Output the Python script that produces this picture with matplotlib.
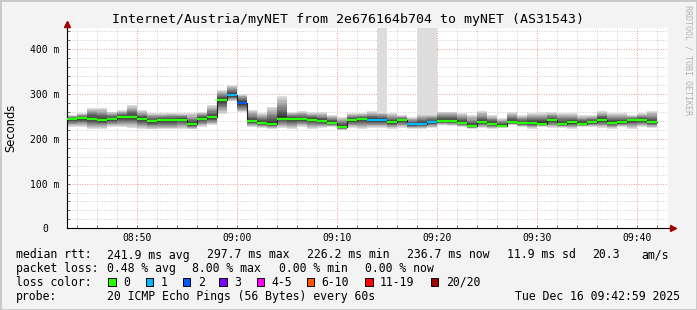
import numpy as np
import pandas as pd
import matplotlib
matplotlib.use("Agg")
import matplotlib.pyplot as plt
import matplotlib.dates as mdates
from matplotlib.patches import Rectangle
from matplotlib.ticker import MultipleLocator, FuncFormatter

W, H = 697, 310
MONO = "DejaVu Sans Mono"

# --- data (one step per minute, 20 pings each) ---
start = "2025-12-16 08:43"
median_ms = [244, 246, 245, 242, 244, 249, 249, 244, 239, 242,
             242, 243, 233, 245, 248, 287, 297, 280, 240, 236,
             233, 245, 245, 244, 243, 240, 236, 226, 242, 244,
             242, 242, 237, 242, 232, 234, 237, 240, 240, 236,
             228, 237, 234, 229, 237, 235, 235, 234, 242, 234,
             237, 234, 237, 242, 236, 237, 242, 242, 237]
smoke_lo = [227, 227, 223, 223, 227, 227, 225, 223, 221, 221,
            221, 223, 221, 227, 231, 255, 284, 259, 227, 225,
            223, 225, 223, 227, 223, 225, 227, 220, 225, 223,
            225, 225, 223, 225, 223, 223, 225, 231, 229, 227,
            223, 225, 223, 225, 231, 227, 223, 227, 225, 225,
            223, 227, 227, 225, 223, 227, 223, 227, 225]
smoke_hi = [253, 257, 269, 269, 261, 264, 275, 264, 258, 257,
            258, 257, 257, 260, 275, 309, 320, 301, 264, 258,
            272, 296, 260, 262, 259, 259, 253, 248, 257, 257,
            262, 260, 257, 253, 248, 255, 255, 261, 261, 257,
            253, 262, 253, 246, 259, 253, 257, 259, 259, 257,
            257, 253, 253, 262, 257, 257, 253, 257, 262]
lost_pings = [0, 0, 0, 0, 0, 0, 0, 0, 0, 0,
              0, 0, 0, 0, 0, 0, 1, 2, 0, 0,
              0, 0, 0, 0, 0, 0, 0, 0, 0, 0,
              1, 1, 0, 0, 1, 1, 1, 0, 0, 0,
              0, 0, 0, 0, 0, 0, 0, 0, 0, 0,
              0, 0, 0, 0, 0, 0, 0, 0, 0]
spike_steps = ["09:14", "09:18", "09:19"]   # slowest ping off the scale

loss_labels = ["0", "1", "2", "3", "4-5", "6-10", "11-19", "20/20"]
loss_colors = ["#26ff00", "#00b8ff", "#0059ff", "#7e00ff",
               "#ff00ff", "#ff5500", "#ff0000", "#a10000"]
loss_upper = [0, 1, 2, 3, 5, 10, 19, 20]

times = pd.date_range(start, periods=len(median_ms), freq="min")
edges = mdates.date2num(list(times) + [times[-1] + pd.Timedelta(minutes=1)])

med = np.array(median_ms, float)
lo = np.array(smoke_lo, float)
hi = np.array(smoke_hi, float)


def ext(a):
    return np.append(a, a[-1])


fig = plt.figure(figsize=(W / 100, H / 100), dpi=100, facecolor="#f3f3f3")
ax = fig.add_axes([67 / W, (H - 228.3) / H, (668 - 67) / W, 200 / H])
ax.set_facecolor("white")

# spikes: lightest smoke going up to the top
for s in spike_steps:
    i = list(times.strftime("%H:%M")).index(s)
    ax.bar(edges[i], 470 - hi[i], bottom=hi[i], width=edges[i + 1] - edges[i],
           align="edge", color="#dddddd", lw=0, zorder=2)

# smoke: outer pings light, inner pings dark
for k in range(10):
    f = 1 - k / 10
    g = int(190 / 10 * (9 - k)) + 50
    ax.fill_between(edges, ext(med - f * (med - lo)), ext(med + f * (hi - med)),
                    step="post", color="#%02x%02x%02x" % (g, g, g), lw=0, zorder=2)

ax.step(edges, ext(med), where="post", color="#202020", lw=0.8, zorder=4)
cols = [loss_colors[next(j for j, u in enumerate(loss_upper) if n <= u)] for n in lost_pings]
ax.hlines(med, edges[:-1], edges[1:], colors=cols, lw=1.6, zorder=5)

ax.set_xlim(edges[0], edges[0] + 60.1 / 1440)
ax.set_ylim(0, 447)
ax.xaxis.set_major_locator(mdates.MinuteLocator(byminute=range(0, 60, 10)))
ax.xaxis.set_minor_locator(mdates.MinuteLocator(byminute=range(0, 60, 2)))
ax.xaxis.set_major_formatter(mdates.DateFormatter("%H:%M"))
ax.yaxis.set_major_locator(MultipleLocator(100))
ax.yaxis.set_minor_locator(MultipleLocator(20))
ax.yaxis.set_major_formatter(FuncFormatter(lambda v, _: "0" if v == 0 else f"{int(v)} m"))

ax.set_axisbelow(True)
ax.grid(which="minor", color="#cfcfcf", ls=(0, (1, 1.5)), lw=0.7)
ax.grid(which="major", color="#f29a9a", ls=(0, (1, 1.5)), lw=0.7)
ax.tick_params(which="both", direction="in", length=2, width=0.6, color="#606060",
               labelsize=7)
ax.tick_params(axis="y", pad=15.8)
ax.tick_params(axis="x", pad=3.5)
for lbl in ax.get_yticklabels() + ax.get_xticklabels():
    lbl.set_fontfamily(MONO)
for lbl in ax.get_yticklabels():
    lbl.set_horizontalalignment("center")

for sp in ("top", "right"):
    ax.spines[sp].set_visible(False)
for sp in ("left", "bottom"):
    ax.spines[sp].set_linewidth(0.8)
ax.plot([0, 0], [1, 1.03], transform=ax.transAxes, color="black", lw=0.8, clip_on=False)
ax.plot([1, 1.006], [0, 0], transform=ax.transAxes, color="black", lw=0.8, clip_on=False)
ax.plot(0, 1.022, marker="^", ms=4.5, color="#a00000", transform=ax.transAxes, clip_on=False)
ax.plot(1.0075, 0, marker=">", ms=4.5, color="#a00000", transform=ax.transAxes, clip_on=False)

# texts
fig.text(347.5 / W, 1 - 19.5 / H,
         "Internet/Austria/myNET from 2e676164b704 to myNET (AS31543)",
         family=MONO, fontsize=9.5, ha="center", va="center")
fig.text(11 / W, 1 - 127.5 / H, "Seconds", fontsize=8.3, rotation=90,
         ha="center", va="center")
fig.text(688 / W, 1 - 60 / H, "RRDTOOL / TOBI OETIKER", family=MONO, fontsize=6,
         color="#b4b4b4", rotation=270, ha="center", va="center")

rows = [
    (255, [(16, "median rtt:"), (107.3, "241.9 ms avg"), (207.3, "297.7 ms max"),
           (307, "226.2 ms min"), (406.7, "236.7 ms now"), (506.7, "11.9 ms sd"),
           (592.3, "20.3"), (641.7, "am/s")]),
    (268.3, [(16, "packet loss:"), (107.3, "0.48 % avg"), (192.5, "8.00 % max"),
             (279, "0.00 % min"), (365, "0.00 % now")]),
    (282, [(16, "loss color:")]),
    (296.3, [(16, "probe:"), (107.3, "20 ICMP Echo Pings (56 Bytes) every 60s")]),
]
for y, items in rows:
    for x, s in items:
        fig.text(x / W, 1 - y / H, s, family=MONO, fontsize=8.3, va="center")
fig.text(680 / W, 1 - 296.3 / H, "Tue Dec 16 09:42:59 2025", family=MONO,
         fontsize=8.3, va="center", ha="right")

box_x = [108.3, 145.7, 182.7, 219.3, 256.7, 306.7, 365, 430.7]
for bx, lab, c in zip(box_x, loss_labels, loss_colors):
    fig.add_artist(Rectangle((bx / W, 1 - 286.3 / H), 7.5 / W, 8.6 / H,
                             transform=fig.transFigure, fc=c, ec="black", lw=0.7))
    fig.text((bx + 15) / W, 1 - 282 / H, lab, family=MONO, fontsize=8.3, va="center")

fig.add_artist(Rectangle((0, 0), 1, 1, transform=fig.transFigure, fill=False,
                         ec="#c8c8c8", lw=2))

fig.savefig("out.png", dpi=100, facecolor=fig.get_facecolor())
